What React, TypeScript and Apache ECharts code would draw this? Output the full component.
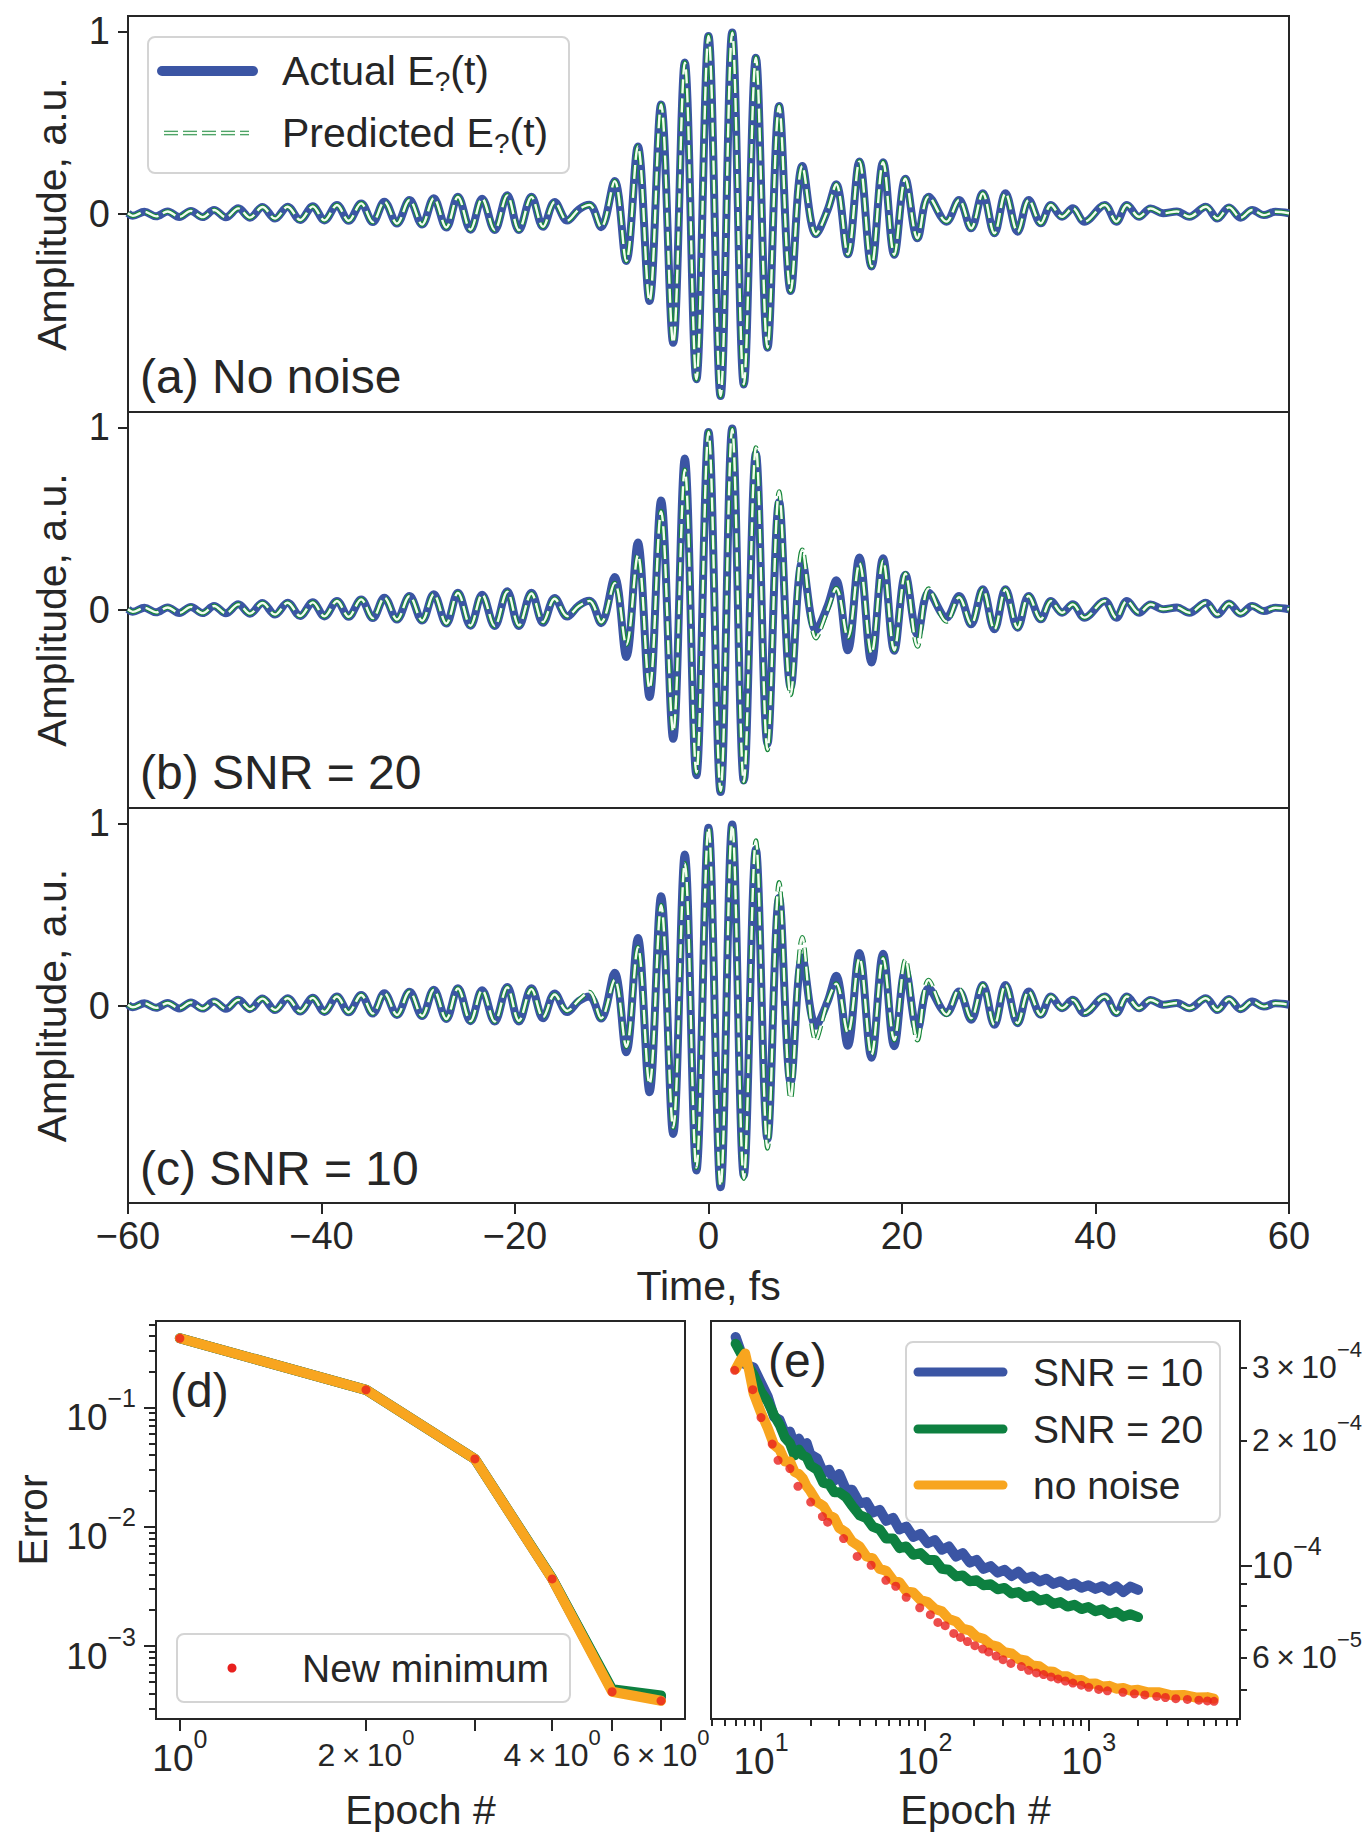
import React, { useEffect, useRef } from "react";
import * as echarts from "echarts";

const FONT = "'Liberation Sans', Arial, Helvetica, sans-serif";
const INK = "#262626";
const BLUE = "#3b55a4";
const GREEN = "#0d8040";
const ORANGE = "#f8a51f";
const RED = "#e8201e";
const PRED_EDGE = "#17863a";
const PRED_FILL = "#f3fcf0";

// ---------- panels (a)-(c): waveform ----------
const timeTicks = [-60, -40, -20, 0, 20, 40, 60];
const ampTicks = [0, 1];

const waveTime = [
  -60.0, -59.5, -58.3, -57.1, -55.9, -54.7, -53.5, -52.3, -51.1, -49.9,
  -48.6, -47.4, -46.1, -44.8, -43.5, -42.2, -40.9, -39.7, -38.4, -37.2,
  -35.9, -34.7, -33.5, -32.2, -30.9, -29.6, -28.4, -27.1, -25.9, -24.6,
  -23.4, -22.1, -20.8, -19.6, -18.3, -17.1, -15.9, -14.6, -13.4, -12.3,
  -11.1, -9.7, -8.5, -7.3, -6.1, -4.9, -3.65, -2.45, -1.25, 0.0,
  1.25, 2.45, 3.65, 4.9, 6.1, 7.3, 8.5, 9.7, 11.1, 12.3,
  13.2, 14.4, 15.6, 16.85, 18.05, 19.2, 20.35, 21.6, 22.75, 24.6,
  25.9, 27.15, 28.35, 29.55, 30.7, 31.95, 33.1, 34.35, 35.4, 36.55,
  37.65, 38.85, 40.95, 42.15, 43.25, 44.5, 45.7, 47.0, 48.4, 49.7,
  51.4, 52.6, 53.8, 55.0, 56.2, 57.4, 58.6, 60.0,
];

const actualAmp = [
  0.004, -0.01, 0.012, -0.013, 0.014, -0.016, 0.017, -0.017, 0.022, -0.018,
  0.031, -0.02, 0.038, -0.025, 0.04, -0.033, 0.042, -0.035, 0.049, -0.037,
  0.058, -0.044, 0.067, -0.052, 0.076, -0.058, 0.086, -0.074, 0.094, -0.086,
  0.084, -0.088, 0.102, -0.088, 0.094, -0.07, 0.066, -0.036, 0.025, 0.05,
  -0.072, 0.18, -0.257, 0.37, -0.476, 0.6, -0.705, 0.829, -0.905, 0.975,
  -0.997, 0.993, -0.933, 0.856, -0.732, 0.591, -0.422, 0.263, -0.111, 0.02,
  0.163, -0.221, 0.288, -0.287, 0.284, -0.223, 0.193, -0.133, 0.095, -0.042,
  0.077, -0.078, 0.113, -0.106, 0.113, -0.097, 0.077, -0.051, 0.049, -0.015,
  0.031, -0.042, 0.049, -0.042, 0.049, -0.015, 0.03, 0.004, 0.014, -0.015,
  0.04, -0.025, 0.036, -0.02, 0.022, -0.006, 0.012, 0.004,
];

const predictedAmpA = [
  0.004, -0.01, 0.012, -0.013, 0.014, -0.016, 0.017, -0.017, 0.022, -0.018,
  0.031, -0.02, 0.038, -0.025, 0.04, -0.033, 0.042, -0.035, 0.049, -0.037,
  0.058, -0.044, 0.067, -0.052, 0.076, -0.058, 0.086, -0.074, 0.094, -0.086,
  0.084, -0.088, 0.102, -0.088, 0.094, -0.07, 0.066, -0.036, 0.025, 0.05,
  -0.072, 0.18, -0.257, 0.37, -0.476, 0.6, -0.705, 0.829, -0.905, 0.975,
  -0.997, 0.993, -0.933, 0.856, -0.732, 0.591, -0.422, 0.263, -0.111, 0.02,
  0.163, -0.221, 0.288, -0.287, 0.284, -0.223, 0.193, -0.133, 0.095, -0.042,
  0.077, -0.078, 0.113, -0.106, 0.113, -0.097, 0.077, -0.051, 0.049, -0.015,
  0.031, -0.042, 0.049, -0.042, 0.049, -0.015, 0.03, 0.004, 0.014, -0.015,
  0.04, -0.025, 0.036, -0.02, 0.022, -0.006, 0.012, 0.004,
];

const predictedAmpB = [
  0.004, -0.01, 0.012, -0.013, 0.014, -0.016, 0.017, -0.017, 0.022, -0.018,
  0.031, -0.02, 0.038, -0.025, 0.04, -0.033, 0.042, -0.035, 0.049, -0.037,
  0.058, -0.044, 0.067, -0.052, 0.076, -0.058, 0.086, -0.074, 0.094, -0.086,
  0.084, -0.088, 0.1, -0.085, 0.09, -0.066, 0.062, -0.034, 0.022, 0.05,
  -0.068, 0.147, -0.19, 0.3, -0.43, 0.54, -0.665, 0.768, -0.89, 0.975,
  -0.99, 0.99, -0.94, 0.89, -0.766, 0.649, -0.465, 0.33, -0.154, 0.0,
  0.12, -0.15, 0.256, -0.237, 0.27, -0.22, 0.2, -0.2, 0.117, -0.063,
  0.07, -0.078, 0.113, -0.106, 0.113, -0.097, 0.077, -0.051, 0.049, -0.015,
  0.031, -0.042, 0.049, -0.042, 0.049, -0.015, 0.03, 0.004, 0.014, -0.015,
  0.04, -0.025, 0.036, -0.02, 0.022, -0.006, 0.012, 0.004,
];

const predictedAmpC = [
  0.004, -0.01, 0.012, -0.013, 0.014, -0.016, 0.017, -0.017, 0.022, -0.018,
  0.031, -0.02, 0.038, -0.025, 0.04, -0.033, 0.042, -0.035, 0.049, -0.037,
  0.058, -0.044, 0.067, -0.052, 0.076, -0.058, 0.086, -0.074, 0.094, -0.086,
  0.084, -0.088, 0.1, -0.084, 0.09, -0.064, 0.06, -0.03, 0.03, 0.074,
  -0.07, 0.14, -0.227, 0.32, -0.43, 0.55, -0.67, 0.78, -0.89, 0.975,
  -0.99, 0.99, -0.95, 0.905, -0.784, 0.676, -0.51, 0.375, -0.19, 0.02,
  0.12, -0.15, 0.26, -0.27, 0.26, -0.19, 0.25, -0.19, 0.14, -0.05,
  0.09, -0.07, 0.113, -0.106, 0.113, -0.097, 0.077, -0.051, 0.049, -0.015,
  0.031, -0.042, 0.049, -0.042, 0.049, -0.015, 0.03, 0.004, 0.014, -0.015,
  0.04, -0.025, 0.036, -0.02, 0.022, -0.006, 0.012, 0.004,
];

// ---------- panel (d): first epochs ----------
const firstEpochs = [1, 2, 3, 4, 5, 6];
const firstErrSnr10 = [0.383, 0.1415, 0.0372, 0.00368, 4.25e-4, 3.7e-4];
const firstErrSnr20 = [0.383, 0.1415, 0.0372, 0.0037, 4.35e-4, 3.85e-4];
const firstErrClean = [0.383, 0.1415, 0.0372, 0.00366, 4.13e-4, 3.47e-4];
const firstMinErr = [0.383, 0.1415, 0.0372, 0.00366, 4.13e-4, 3.47e-4];

const dXTicks = [1, 2, 3, 4, 5, 6];
const dXLabels = [1, 2, 4, 6];
const dYMajor = [1e-3, 1e-2, 1e-1];
const dYMinor = [
  3e-4, 4e-4, 5e-4, 6e-4, 7e-4, 8e-4, 9e-4,
  2e-3, 3e-3, 4e-3, 5e-3, 6e-3, 7e-3, 8e-3, 9e-3,
  2e-2, 3e-2, 4e-2, 5e-2, 6e-2, 7e-2, 8e-2, 9e-2,
  2e-1, 3e-1, 4e-1, 5e-1,
];

// ---------- panel (e): later epochs ----------
const noisyEpochs = [
  7, 8, 9, 10, 11, 12, 13, 14, 15, 16, 17, 18, 19, 20, 22, 24, 26, 28, 30, 33,
  36, 40, 44, 48, 53, 58, 64, 70, 77, 85, 94, 104, 115, 127, 140, 155, 170, 188, 207, 228,
  252, 278, 306, 338, 373, 411, 453, 500, 552, 609, 672, 741, 818, 902, 995, 1098, 1211, 1336, 1474, 1626,
  1794, 2000,
];
const errSnr10 = [
  3.55e-4, 3.05e-4, 3.0e-4, 2.75e-4, 2.55e-4, 2.28e-4, 2.24e-4, 2.08e-4, 2.1e-4, 1.95e-4,
  2.02e-4, 1.92e-4, 1.97e-4, 1.85e-4, 1.81e-4, 1.67e-4, 1.7e-4, 1.6e-4, 1.66e-4, 1.52e-4,
  1.52e-4, 1.41e-4, 1.42e-4, 1.34e-4, 1.36e-4, 1.28e-4, 1.3e-4, 1.22e-4, 1.24e-4, 1.17e-4,
  1.19e-4, 1.13e-4, 1.15e-4, 1.09e-4, 1.11e-4, 1.05e-4, 1.07e-4, 1.015e-4, 1.03e-4, 9.8e-5,
  9.95e-5, 9.6e-5, 9.75e-5, 9.42e-5, 9.65e-5, 9.28e-5, 9.4e-5, 9.14e-5, 9.28e-5, 9.02e-5,
  9.15e-5, 8.93e-5, 9.05e-5, 8.83e-5, 8.95e-5, 8.77e-5, 8.9e-5, 8.68e-5, 8.9e-5, 8.62e-5,
  8.88e-5, 8.72e-5,
];
const errSnr20 = [
  3.42e-4, 3.1e-4, 2.88e-4, 2.62e-4, 2.48e-4, 2.3e-4, 2.18e-4, 2.03e-4, 1.97e-4, 1.84e-4,
  1.9e-4, 1.84e-4, 1.82e-4, 1.74e-4, 1.7e-4, 1.58e-4, 1.57e-4, 1.5e-4, 1.5e-4, 1.46e-4,
  1.39e-4, 1.32e-4, 1.3e-4, 1.24e-4, 1.22e-4, 1.16e-4, 1.16e-4, 1.1e-4, 1.11e-4, 1.06e-4,
  1.07e-4, 1.03e-4, 1.03e-4, 9.8e-5, 9.75e-5, 9.4e-5, 9.45e-5, 9.15e-5, 9.2e-5, 8.95e-5,
  9.0e-5, 8.75e-5, 8.82e-5, 8.55e-5, 8.62e-5, 8.38e-5, 8.45e-5, 8.22e-5, 8.3e-5, 8.07e-5,
  8.15e-5, 7.95e-5, 8.03e-5, 7.84e-5, 7.93e-5, 7.75e-5, 7.83e-5, 7.63e-5, 7.72e-5, 7.52e-5,
  7.62e-5, 7.5e-5,
];
const cleanEpochs = [
  7, 7.5, 8, 8.5, 9, 10, 11, 12, 13, 14, 15, 16, 17, 18, 19, 20, 22, 24, 26, 28,
  30, 33, 36, 40, 44, 48, 53, 58, 64, 70, 77, 85, 94, 104, 115, 127, 140, 155, 170, 188,
  207, 228, 252, 278, 306, 338, 373, 411, 453, 500, 552, 609, 672, 741, 818, 902, 995, 1098, 1211, 1336,
  1474, 1626, 1794, 2000, 2300, 2700, 3200, 3800, 4500, 5300, 5800,
];
const errClean = [
  2.97e-4, 3.12e-4, 3.24e-4, 2.92e-4, 2.6e-4, 2.33e-4, 2.14e-4, 1.95e-4, 1.9e-4, 1.78e-4,
  1.78e-4, 1.68e-4, 1.66e-4, 1.62e-4, 1.55e-4, 1.51e-4, 1.42e-4, 1.39e-4, 1.32e-4, 1.3e-4,
  1.23e-4, 1.2e-4, 1.14e-4, 1.11e-4, 1.05e-4, 1.04e-4, 9.8e-5, 9.7e-5, 9.2e-5, 9.1e-5,
  8.65e-5, 8.6e-5, 8.25e-5, 8.15e-5, 7.85e-5, 7.75e-5, 7.42e-5, 7.32e-5, 7.03e-5, 6.97e-5,
  6.72e-5, 6.65e-5, 6.43e-5, 6.37e-5, 6.17e-5, 6.13e-5, 5.94e-5, 5.9e-5, 5.73e-5, 5.71e-5,
  5.55e-5, 5.54e-5, 5.4e-5, 5.4e-5, 5.28e-5, 5.29e-5, 5.18e-5, 5.19e-5, 5.1e-5, 5.12e-5,
  5.04e-5, 5.06e-5, 4.99e-5, 5.01e-5, 4.94e-5, 4.94e-5, 4.86e-5, 4.87e-5, 4.8e-5, 4.81e-5,
  4.77e-5,
];
const minimumEpochs = [
  6.9, 8.9, 10, 11.7, 12.7, 15, 16.8, 20.1, 23.7, 25.5,
  31.9, 38.6, 47, 57.8, 66.4, 76.9, 93, 108, 120, 133,
  150, 165, 182, 202, 225, 245, 272, 300, 335, 388,
  430, 480, 530, 589, 650, 720, 800, 900, 1000, 1150,
  1300, 1618, 1900, 2200, 2600, 2937, 3400, 4000, 4700, 5300, 5820,
];
const minimumErr = [
  2.95e-4, 2.65e-4, 2.27e-4, 1.96e-4, 1.79e-4, 1.71e-4, 1.55e-4, 1.42e-4, 1.31e-4, 1.27e-4,
  1.16e-4, 1.05e-4, 1.0e-4, 9.2e-5, 8.9e-5, 8.37e-5, 7.9e-5, 7.6e-5, 7.28e-5, 7.15e-5,
  6.85e-5, 6.7e-5, 6.55e-5, 6.4e-5, 6.28e-5, 6.18e-5, 6.04e-5, 5.92e-5, 5.8e-5, 5.7e-5,
  5.58e-5, 5.5e-5, 5.45e-5, 5.38e-5, 5.32e-5, 5.26e-5, 5.2e-5, 5.14e-5, 5.08e-5, 5.02e-5,
  4.98e-5, 4.94e-5, 4.9e-5, 4.87e-5, 4.83e-5, 4.8e-5, 4.77e-5, 4.75e-5, 4.73e-5, 4.71e-5, 4.7e-5,
];

const eXMajor = [10, 100, 1000];
const eXMinor = [
  5, 6, 7, 8, 9, 20, 30, 40, 50, 60, 70, 80, 90,
  200, 300, 400, 500, 600, 700, 800, 900, 2000, 3000, 4000, 5000, 6000, 7000, 8000,
];
const eYLabels = [6e-5, 1e-4, 2e-4, 3e-4];
const eYMajorTick = [1e-4];
const eYMinor = [5e-5, 6e-5, 7e-5, 8e-5, 9e-5, 2e-4, 3e-4];

// ---------- helpers ----------
const pairs = (xs: number[], ys: number[]) => xs.map((x, i) => [x, ys[i]]);

function fmtLinear(v: number) {
  return v < 0 ? "\u2212" + Math.abs(v) : String(v);
}

function fmtLog(v: number) {
  const e = Math.floor(Math.log10(v) + 1e-6);
  const m = Math.round(v / Math.pow(10, e));
  const ex = e < 0 ? "\u2212" + -e : String(e);
  return m === 1 ? `{b|10}{s|${ex}}` : `{m|${m}\u2009\u00d7\u200910}{ms|${ex}}`;
}

const logRich = {
  b: { fontSize: 37, lineHeight: 64, fontFamily: FONT, color: INK },
  s: { fontSize: 25, lineHeight: 24, verticalAlign: "top", fontFamily: FONT, color: INK },
  m: { fontSize: 32, lineHeight: 58, fontFamily: FONT, color: INK },
  ms: { fontSize: 22, lineHeight: 20, verticalAlign: "top", fontFamily: FONT, color: INK },
};

const tickLine = { color: INK, width: 2 };
const nameStyle = { fontSize: 41, color: INK, fontFamily: FONT };

function buildOption() {
  const grids = [
    { left: 128, top: 16, width: 1161, height: 396 },
    { left: 128, top: 412, width: 1161, height: 396 },
    { left: 128, top: 808, width: 1161, height: 395 },
    { left: 156, top: 1321, width: 529, height: 398 },
    { left: 711, top: 1321, width: 529, height: 398 },
  ].map((g) => ({
    ...g,
    show: true,
    borderColor: INK,
    borderWidth: 2,
    backgroundColor: "transparent",
    containLabel: false,
  }));

  const hiddenTimeAxis = (gi: number) => ({
    type: "value",
    gridIndex: gi,
    min: -60,
    max: 60,
    axisLine: { show: false, onZero: false },
    axisTick: { show: false },
    axisLabel: { show: false },
    splitLine: { show: false },
  });

  const xAxis: any[] = [
    hiddenTimeAxis(0),
    hiddenTimeAxis(1),
    {
      type: "value",
      gridIndex: 2,
      min: -60,
      max: 60,
      interval: 20,
      axisLine: { show: false, onZero: false },
      axisTick: { show: true, length: 11, lineStyle: tickLine, customValues: timeTicks },
      axisLabel: {
        customValues: timeTicks,
        fontSize: 38,
        color: INK,
        fontFamily: FONT,
        margin: 14,
        formatter: fmtLinear,
      },
      splitLine: { show: false },
      name: "Time, fs",
      nameLocation: "middle",
      nameGap: 62,
      nameTextStyle: nameStyle,
    },
    {
      type: "log",
      logBase: 10,
      gridIndex: 3,
      position: "bottom",
      min: 0.915,
      max: 6.56,
      axisLine: { show: false, onZero: false },
      axisTick: { show: true, length: 12, lineStyle: tickLine, customValues: dXTicks },
      axisLabel: { customValues: dXLabels, formatter: fmtLog, rich: logRich, margin: 7, color: INK },
      splitLine: { show: false },
      minorTick: { show: false },
      name: "Epoch #",
      nameLocation: "middle",
      nameGap: 70,
      nameTextStyle: nameStyle,
    },
    {
      type: "log",
      logBase: 10,
      gridIndex: 4,
      position: "bottom",
      min: 4.95,
      max: 8380,
      axisLine: { show: false, onZero: false },
      axisTick: { show: true, length: 12, lineStyle: tickLine, customValues: eXMajor },
      axisLabel: { customValues: eXMajor, formatter: fmtLog, rich: logRich, margin: 10, color: INK },
      splitLine: { show: false },
      minorTick: { show: false },
      name: "Epoch #",
      nameLocation: "middle",
      nameGap: 70,
      nameTextStyle: nameStyle,
    },
    {
      type: "log",
      logBase: 10,
      gridIndex: 4,
      position: "bottom",
      min: 4.95,
      max: 8380,
      axisLine: { show: false, onZero: false },
      axisTick: { show: true, length: 7, lineStyle: tickLine, customValues: eXMinor },
      axisLabel: { show: false },
      splitLine: { show: false },
    },
  ];

  const ampAxis = (gi: number) => ({
    type: "value",
    gridIndex: gi,
    position: "left",
    min: -1.084,
    max: 1.084,
    axisLine: { show: false, onZero: false },
    axisTick: { show: true, length: 10, lineStyle: tickLine, customValues: ampTicks },
    axisLabel: {
      customValues: ampTicks,
      fontSize: 38,
      color: INK,
      fontFamily: FONT,
      margin: 18,
      formatter: fmtLinear,
    },
    splitLine: { show: false },
    name: "Amplitude, a.u.",
    nameLocation: "middle",
    nameGap: 56,
    nameTextStyle: nameStyle,
  });

  const yAxis: any[] = [
    ampAxis(0),
    ampAxis(1),
    ampAxis(2),
    {
      type: "log",
      logBase: 10,
      gridIndex: 3,
      position: "left",
      min: 2.44e-4,
      max: 0.535,
      axisLine: { show: false, onZero: false },
      axisTick: { show: true, length: 12, lineStyle: tickLine, customValues: dYMajor },
      axisLabel: {
        customValues: dYMajor,
        formatter: fmtLog,
        rich: logRich,
        margin: 20,
        padding: [20, 0, 0, 0],
        color: INK,
      },
      splitLine: { show: false },
      minorTick: { show: false },
      name: "Error",
      nameLocation: "middle",
      nameGap: 103,
      nameTextStyle: nameStyle,
    },
    {
      type: "log",
      logBase: 10,
      gridIndex: 3,
      position: "left",
      min: 2.44e-4,
      max: 0.535,
      axisLine: { show: false, onZero: false },
      axisTick: { show: true, length: 7, lineStyle: tickLine, customValues: dYMinor },
      axisLabel: { show: false },
      splitLine: { show: false },
    },
    {
      type: "log",
      logBase: 10,
      gridIndex: 4,
      position: "right",
      min: 4.26e-5,
      max: 3.88e-4,
      axisLine: { show: false, onZero: false },
      axisTick: { show: true, length: 12, lineStyle: tickLine, customValues: eYMajorTick },
      axisLabel: { customValues: eYLabels, formatter: fmtLog, rich: logRich, margin: 12, color: INK },
      splitLine: { show: false },
      minorTick: { show: false },
    },
    {
      type: "log",
      logBase: 10,
      gridIndex: 4,
      position: "right",
      min: 4.26e-5,
      max: 3.88e-4,
      axisLine: { show: false, onZero: false },
      axisTick: { show: true, length: 7, lineStyle: tickLine, customValues: eYMinor },
      axisLabel: { show: false },
      splitLine: { show: false },
    },
  ];

  const predicted = [predictedAmpA, predictedAmpB, predictedAmpC];
  const series: any[] = [];
  for (let i = 0; i < 3; i++) {
    series.push({
      type: "line",
      name: "Actual",
      xAxisIndex: i,
      yAxisIndex: i,
      data: pairs(waveTime, actualAmp),
      smooth: 0.36,
      showSymbol: false,
      lineStyle: { color: BLUE, width: 8 },
      z: 2,
    });
    series.push({
      type: "line",
      name: "Predicted",
      xAxisIndex: i,
      yAxisIndex: i,
      data: pairs(waveTime, predicted[i]),
      smooth: 0.36,
      showSymbol: false,
      lineStyle: { color: PRED_EDGE, width: 4.6, type: [14, 5] },
      z: 3,
    });
    series.push({
      type: "line",
      name: "Predicted inner",
      xAxisIndex: i,
      yAxisIndex: i,
      data: pairs(waveTime, predicted[i]),
      smooth: 0.36,
      showSymbol: false,
      lineStyle: { color: PRED_FILL, width: 2.4, type: [14, 5] },
      z: 4,
    });
  }

  const errLine = (name: string, xs: number[], ys: number[], color: string, xi: number, yi: number, z: number) => ({
    type: "line",
    name,
    xAxisIndex: xi,
    yAxisIndex: yi,
    data: pairs(xs, ys),
    showSymbol: false,
    lineStyle: { color, width: 10, join: "round", cap: "round" },
    z,
  });

  series.push(errLine("SNR = 10", firstEpochs, firstErrSnr10, BLUE, 3, 3, 2));
  series.push(errLine("SNR = 20", firstEpochs, firstErrSnr20, GREEN, 3, 3, 3));
  series.push(errLine("no noise", firstEpochs, firstErrClean, ORANGE, 3, 3, 4));
  series.push({
    type: "scatter",
    name: "New minimum",
    xAxisIndex: 3,
    yAxisIndex: 3,
    data: pairs(firstEpochs, firstMinErr),
    symbol: "circle",
    symbolSize: 9,
    itemStyle: { color: RED },
    z: 5,
  });

  series.push(errLine("SNR = 10", noisyEpochs, errSnr10, BLUE, 4, 5, 2));
  series.push(errLine("SNR = 20", noisyEpochs, errSnr20, GREEN, 4, 5, 3));
  series.push(errLine("no noise", cleanEpochs, errClean, ORANGE, 4, 5, 4));
  series.push({
    type: "scatter",
    name: "New minimum",
    xAxisIndex: 4,
    yAxisIndex: 5,
    data: pairs(minimumEpochs, minimumErr),
    symbol: "circle",
    symbolSize: 9,
    itemStyle: { color: RED },
    z: 5,
  });

  const txt = (text: string, x: number, y: number, fontSize: number, extra: any = {}) => ({
    type: "text",
    x,
    y,
    z: 120,
    style: {
      text,
      fontSize,
      fontFamily: FONT,
      fill: INK,
      align: "left",
      verticalAlign: "middle",
      ...extra,
    },
  });

  const eRich = {
    t: { fontSize: 41, lineHeight: 48, fontFamily: FONT, color: INK },
    u: { fontSize: 28, lineHeight: 30, verticalAlign: "bottom", fontFamily: FONT, color: INK },
  };

  const graphic: any[] = [
    txt("(a) No noise", 140, 376, 48),
    txt("(b) SNR = 20", 140, 772, 48),
    txt("(c) SNR = 10", 140, 1168, 48),
    txt("(d)", 170, 1390, 48),
    txt("(e)", 768, 1360, 48),
    // legend (a)
    {
      type: "rect",
      z: 110,
      shape: { x: 148, y: 37, width: 421, height: 136, r: 7 },
      style: { fill: "rgba(255,255,255,0.85)", stroke: "#d4d4d4", lineWidth: 2 },
    },
    {
      type: "line",
      z: 111,
      shape: { x1: 162, y1: 71, x2: 253, y2: 71 },
      style: { stroke: BLUE, lineWidth: 10, lineCap: "round" },
    },
    {
      type: "line",
      z: 111,
      shape: { x1: 164, y1: 133, x2: 249, y2: 133 },
      style: { stroke: PRED_EDGE, lineWidth: 4.6, lineDash: [14, 5] },
    },
    {
      type: "line",
      z: 112,
      shape: { x1: 164, y1: 133, x2: 249, y2: 133 },
      style: { stroke: PRED_FILL, lineWidth: 2.4, lineDash: [14, 5] },
    },
    txt("{t|Actual E}{u|?}{t|(t)}", 282, 71, 41, { rich: eRich }),
    txt("{t|Predicted E}{u|?}{t|(t)}", 282, 133, 41, { rich: eRich }),
    // legend (d)
    {
      type: "rect",
      z: 110,
      shape: { x: 177, y: 1634, width: 393, height: 68, r: 7 },
      style: { fill: "rgba(255,255,255,0.85)", stroke: "#d4d4d4", lineWidth: 2 },
    },
    {
      type: "circle",
      z: 111,
      shape: { cx: 232, cy: 1668, r: 4.5 },
      style: { fill: RED },
    },
    txt("New minimum", 302, 1668, 39),
    // legend (e)
    {
      type: "rect",
      z: 110,
      shape: { x: 906, y: 1342, width: 314, height: 180, r: 7 },
      style: { fill: "rgba(255,255,255,0.85)", stroke: "#d4d4d4", lineWidth: 2 },
    },
    {
      type: "line",
      z: 111,
      shape: { x1: 918, y1: 1372, x2: 1003, y2: 1372 },
      style: { stroke: BLUE, lineWidth: 9, lineCap: "round" },
    },
    {
      type: "line",
      z: 111,
      shape: { x1: 918, y1: 1429, x2: 1003, y2: 1429 },
      style: { stroke: GREEN, lineWidth: 9, lineCap: "round" },
    },
    {
      type: "line",
      z: 111,
      shape: { x1: 918, y1: 1485, x2: 1003, y2: 1485 },
      style: { stroke: ORANGE, lineWidth: 9, lineCap: "round" },
    },
    txt("SNR = 10", 1033, 1372, 39),
    txt("SNR = 20", 1033, 1429, 39),
    txt("no noise", 1033, 1485, 39),
  ];

  return {
    animation: false,
    backgroundColor: "#ffffff",
    textStyle: { fontFamily: FONT, color: INK },
    grid: grids,
    xAxis,
    yAxis,
    series,
    graphic,
  };
}

export default function App() {
  const ref = useRef<HTMLDivElement>(null);
  useEffect(() => {
    document.body.style.margin = "0";
    if (!ref.current) return;
    const chart = echarts.init(ref.current, undefined, { renderer: "svg" });
    chart.setOption(buildOption() as any);
    return () => chart.dispose();
  }, []);
  return (
    <div
      ref={ref}
      style={{ position: "absolute", left: 0, top: 0, width: 1365, height: 1848, background: "#fff" }}
    />
  );
}
